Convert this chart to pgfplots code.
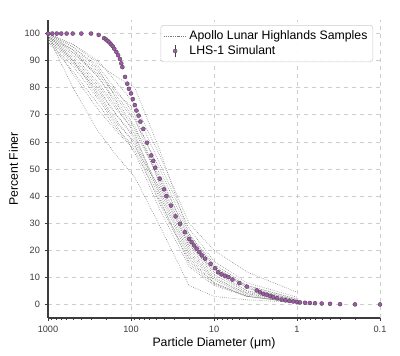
\documentclass[border=0pt]{standalone}
\usepackage{pgfplots}
\pgfplotsset{compat=1.18}
\usepackage{pgfplotstable}
\usepackage{fontspec}
\setmainfont{Liberation Sans}
\definecolor{lhs}{RGB}{165,85,175}
\definecolor{apg}{RGB}{125,125,125}
\definecolor{gridc}{RGB}{205,205,205}
\definecolor{axc}{RGB}{60,60,60}
\pgfplotsset{lhslegend/.style={legend image code/.code={%
    \draw[black!75, line width=0.5pt] (0.3cm,-0.16cm) -- (0.3cm,0.16cm);
    \draw[##1] plot coordinates {(0.3cm,0cm)};}}}

\pgfplotstableread{
d y
1000 100
887 100
785 100
692 100
596 100
504 100
397 100
303 100
245 99.5
211 98.3
200 97.8
191 97.3
182 96.7
174 96.0
166 95.3
159 94.4
150 93.2
143 92.0
136 90.6
131 89.0
127 87.6
118 84.0
111 81.5
106 79.6
100 77.9
95 75.8
90 73.6
86 71.6
81 69.7
77 67.5
71 64.8
64 59.7
57 55.0
54 53.0
51 50.5
45 46.4
40 42.5
37.5 40.0
33 36.5
29 32.5
25.7 29.8
22.4 26.7
19.9 24.2
18.6 23.0
17.4 21.8
16.2 20.6
15.0 19.3
14.0 18.1
12.8 16.9
11.0 15.0
9.7 13.4
8.9 11.9
8.1 11.1
7.4 10.6
6.7 10.1
6.0 9.2
4.95 7.9
4.03 6.6
3.06 5.2
2.79 4.5
2.55 3.9
2.32 3.6
2.11 3.1
1.93 2.7
1.73 2.3
1.53 1.8
1.38 1.5
1.24 1.3
1.11 1.1
1.0 0.9
0.92 0.74
0.80 0.63
0.70 0.55
0.607 0.45
0.504 0.35
0.40 0.25
0.303 0.12
0.20 0.03
0.10 0.0
}\lhs

% Apollo samples: columns d, then one column per sample
\pgfplotstableread{
d    A  B  C   D   E   F   G   H   I   J   K   L   M   N   O   P   Q   R
1000 99 99 100 100 99  100 98  99  100 99  97  100 99  98  100 99  97  100
500  80 85 90  93  92  95  90  94  96  91  88  95  93  89  96  90  86  94
250  64 72 80  84  82  88  78  86  90  81  76  87  85  79  89  77  74  84
150  55 64 70  75  73  79  68  78  82  72  66  76  77  70  84  67  65  74
90   47 57 62  66  63  70  59  72  74  64  56  68  69  61  80  60  58  65
45   29 38 42  45  40  48  37  52  55  46  35  50  44  41  57  39  43  47
20   7  17 20  22  18  24  16  28  30  23  14  26  21  19  26  15  22  25
10   3  8  10  12  9   13  8   16  20  12  7   15  11  9.5 14  7.5 13  14
4    1.7 3 4  5   3.5 6   3   8   12  5   3   7   4.5 4   6   3   7   6.5
1    0.8 1 1  1.5 0.8 1.5 0.6 2.7 4.5 1.2 0.7 2   1   1   1.5 0.7 2   1.5
}\apollo

\begin{document}
\begin{tikzpicture}[x=1pt,y=1pt]
\begin{axis}[
  name=ax,
  at={(0,0)}, anchor=south west,
  width=249pt, height=223.5pt, scale only axis,
  xmode=log, x dir=reverse,
  xmin=0.1, xmax=1000,
  ymin=-5, ymax=105,
  xtick={0.1,1,10,100,1000},
  xticklabels={0.1,1,10,100,1000},
  ytick={0,10,...,100},
  axis x line*=bottom, axis y line*=left,
  axis line style={axc, line width=0.9pt, -},
  every tick/.style={axc, line width=0.5pt},
  major tick length=2.5pt, minor tick length=1.6pt,
  xminorticks=true,
  tick align=outside,
  grid=major,
  major grid style={gridc, dashed, line width=0.5pt},
  tick label style={font=\fontsize{6.9}{8}\selectfont, text=axc},
  /pgf/number format/assume math mode=true,
  xlabel={Particle Diameter (μm)},
  ylabel={Percent Finer},
  label style={font=\fontsize{9.2}{11}\selectfont, text=black},
  xlabel style={yshift=3pt},
  ylabel style={yshift=-2pt},
  clip=false,
  legend style={at={(0.979,0.983)}, anchor=north east, draw=gridc,
    rounded corners=2pt, fill=white, fill opacity=0.9, text opacity=1,
    font=\fontsize{9.2}{11}\selectfont, row sep=-1pt, inner sep=2pt},
  legend cell align=left,
]
\addplot[apg, densely dotted, line width=0.45pt] table[x=d, y=A] {\apollo};
\addlegendentry{Apollo Lunar Highlands Samples}
\pgfplotsinvokeforeach{B,C,D,E,F,G,H,I,J,K,L,M,N,O,P,Q,R}{
  \addplot[apg, densely dotted, line width=0.45pt, forget plot] table[x=d, y=#1] {\apollo};
}
\addplot[only marks, mark=*, mark size=1.5pt,
  mark options={fill=lhs, draw=black!70, line width=0.3pt},
  lhslegend,
  error bars/.cd, y dir=both, y fixed=0.6,
  error bar style={black!75, line width=0.4pt}, error mark=none,
  ] table[x=d, y=y] {\lhs};
\addlegendentry{LHS-1 Simulant}
\end{axis}
\path (ax.south west) ++(-36pt,-27.75pt) rectangle ++(300pt,266.25pt);
\end{tikzpicture}
\end{document}
